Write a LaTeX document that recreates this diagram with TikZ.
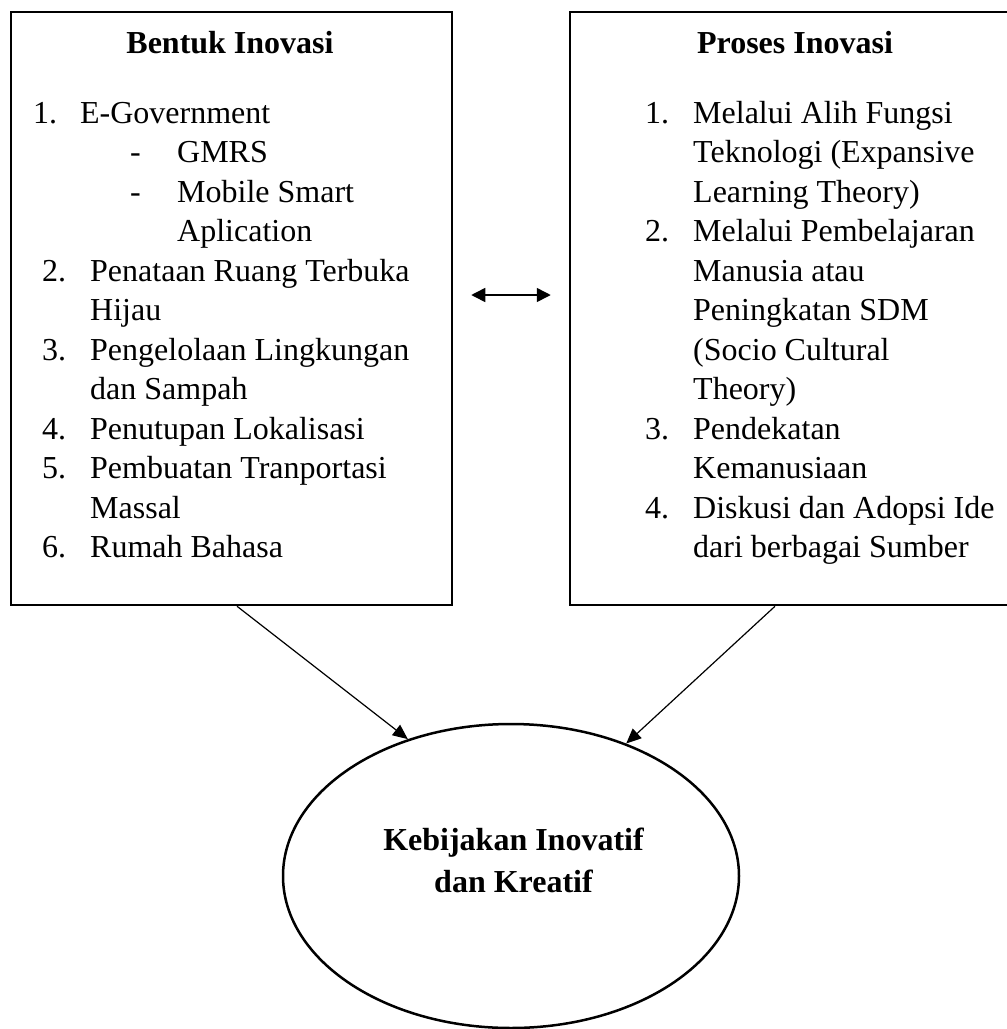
\documentclass[tikz,border=0pt]{standalone}
\usepackage{fontspec}
\setmainfont{Liberation Serif}
\usetikzlibrary{shapes.geometric,arrows.meta,positioning}

\tikzset{
  kotak/.style={draw, line width=2.5pt, minimum width=441pt, minimum height=593pt, inner sep=0pt},
  judul/.style={font=\fontsize{32}{39.5}\selectfont\bfseries, inner sep=0pt, anchor=base},
  daftar/.style={font=\fontsize{32}{39.5}\selectfont, align=left, inner sep=0pt, anchor=base west},
  panah/.style={line width=1.2pt, -{Triangle[length=15pt,width=13pt]}},
  panahdua/.style={line width=1.5pt, {Triangle[length=14pt,width=14pt]}-{Triangle[length=14pt,width=14pt]}},
}

\begin{document}
\begin{tikzpicture}[x=1pt,y=-1pt]
  \useasboundingbox (0,0) rectangle (1007,1029);
  % kotak kiri dan kanan
  \node[kotak] (bentuk) at (231.5,308.5) {};
  \node[kotak] (proses) at (790.5,308.5) {};
  \node[judul] (judulbentuk) at (230,53) {Bentuk Inovasi};
  \node[judul] (judulproses) at (795,53) {Proses Inovasi};
  % base = baris terakhir
  \node[daftar] (isibentuk) at (33,557.5) {%
    \makebox[47pt][l]{1.}E-Government\\
    \hspace*{97pt}\makebox[47pt][l]{-}GMRS\\
    \hspace*{97pt}\makebox[47pt][l]{-}Mobile Smart\\
    \hspace*{144pt}Aplication\\
    \hspace*{9pt}\makebox[48pt][l]{2.}Penataan Ruang Terbuka\\
    \hspace*{57pt}Hijau\\
    \hspace*{9pt}\makebox[48pt][l]{3.}Pengelolaan Lingkungan\\
    \hspace*{57pt}dan Sampah\\
    \hspace*{9pt}\makebox[48pt][l]{4.}Penutupan Lokalisasi\\
    \hspace*{9pt}\makebox[48pt][l]{5.}Pembuatan Tranportasi\\
    \hspace*{57pt}Massal\\
    \hspace*{9pt}\makebox[48pt][l]{6.}Rumah Bahasa};
  \node[daftar] (isiproses) at (645,557.5) {%
    \makebox[48pt][l]{1.}Melalui Alih Fungsi\\
    \hspace*{48pt}Teknologi (Expansive\\
    \hspace*{48pt}Learning Theory)\\
    \makebox[48pt][l]{2.}Melalui Pembelajaran\\
    \hspace*{48pt}Manusia atau\\
    \hspace*{48pt}Peningkatan SDM\\
    \hspace*{48pt}(Socio Cultural\\
    \hspace*{48pt}Theory)\\
    \makebox[48pt][l]{3.}Pendekatan\\
    \hspace*{48pt}Kemanusiaan\\
    \makebox[48pt][l]{4.}Diskusi dan Adopsi Ide\\
    \hspace*{48pt}dari berbagai Sumber};
  % elips hasil
  \node[ellipse, draw, line width=2.5pt, minimum width=456pt, minimum height=304pt, inner sep=0pt] (kebijakan) at (511,876) {};
  \node[judul, align=center, font=\fontsize{32}{42}\selectfont\bfseries] (teksbijak) at (513.5,892) {Kebijakan Inovatif\\dan Kreatif};
  % panah
  \draw[panahdua] ([xshift=18pt,yshift=13.5pt]bentuk.east) -- ([xshift=-18pt,yshift=13.5pt]proses.west);
  \draw[panah] ([xshift=5.5pt]bentuk.south) -- (kebijakan.127);
  \draw[panah] ([xshift=-15.5pt]proses.south) -- (kebijakan.49);
\end{tikzpicture}
\end{document}
